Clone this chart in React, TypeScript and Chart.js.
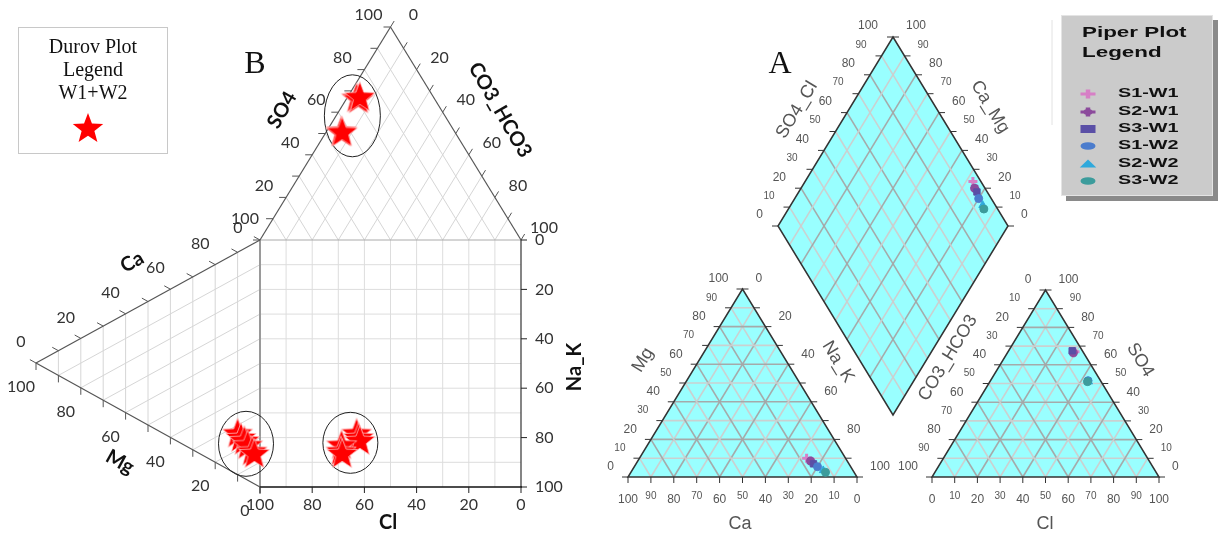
import React, { useEffect, useRef } from "react";
import { Chart, registerables } from "chart.js";

Chart.register(...registerables);

const W = 1219;
const H = 538;

// ---------------- data (% meq/l) ----------------
const SAMPLES = ["S1-W1", "S2-W1", "S3-W1", "S1-W2", "S2-W2", "S3-W2"];
const CA = [17, 16, 15.5, 14.5, 13, 12.5];
const MG = [10, 8.5, 7, 5.5, 3.5, 2.5];
const SO4 = [67, 66.5, 67.5, 51.5, 51, 51];
const CL = [29.5, 29, 28, 43, 43.5, 43];
const COLORS = ["#d77fc6", "#8c4b9c", "#5a4fa6", "#4b7ccd", "#2fa9dc", "#3c9c9c"];
const STYLES = ["cross", "star", "rect", "circle", "triangle", "circle"];

const DUROV_TICKS = [0, 20, 40, 60, 80, 100];
const PIPER_TICKS = [0, 10, 20, 30, 40, 50, 60, 70, 80, 90, 100];
const NAK_TICKS = [0, 20, 40, 60, 80, 100];
const GRID = [10, 20, 30, 40, 50, 60, 70, 80, 90];

// ---------------- layout geometry ----------------
type P = [number, number];
const DQ = { l: 260, r: 521, t: 240, b: 487 };
const DT = { cl: [260, 240] as P, co3: [521, 240] as P, so4: [390.5, 27] as P };
const DL = { ca: [260, 240] as P, mg: [36, 363] as P, na: [260, 487] as P };
const PC = { ca: [628, 477] as P, na: [857, 477] as P, mg: [742.5, 289] as P };
const PA = { co3: [932, 477] as P, cl: [1159, 477] as P, so4: [1045.5, 290] as P };
const PD = { t: [893, 37] as P, l: [778, 226] as P, r: [1008, 226] as P, b: [893, 415] as P };

const mix = (A: P, B: P, C: P, a: number, b: number, c: number): P => {
  const s = a + b + c;
  return [(A[0] * a + B[0] * b + C[0] * c) / s, (A[1] * a + B[1] * b + C[1] * c) / s];
};
const lerp = (A: P, B: P, t: number): P => [A[0] + (B[0] - A[0]) * t, A[1] + (B[1] - A[1]) * t];
const dia = (a: number, b: number): P => [
  PD.b[0] + a * (PD.r[0] - PD.b[0]) + b * (PD.l[0] - PD.b[0]),
  PD.b[1] + a * (PD.r[1] - PD.b[1]) + b * (PD.l[1] - PD.b[1]),
];

const NA = CA.map((c, i) => 100 - c - MG[i]);
const CO3 = SO4.map((s, i) => 100 - s - CL[i]);

const durovTop = SAMPLES.map((_, i) => mix(DT.cl, DT.co3, DT.so4, CL[i], CO3[i], SO4[i]));
const durovLeft = SAMPLES.map((_, i) => mix(DL.ca, DL.mg, DL.na, CA[i], MG[i], NA[i]));
const durovSq = SAMPLES.map((_, i) => [durovTop[i][0], durovLeft[i][1]] as P);
const piperCat = SAMPLES.map((_, i) => mix(PC.ca, PC.na, PC.mg, CA[i], NA[i], MG[i]));
const piperAn = SAMPLES.map((_, i) => mix(PA.co3, PA.cl, PA.so4, CO3[i], CL[i], SO4[i]));
const piperDia = SAMPLES.map((_, i) => dia((SO4[i] + CL[i]) / 100, (CA[i] + MG[i]) / 100));

// ---------------- drawing helpers ----------------
function line(g: CanvasRenderingContext2D, a: P, b: P, color: string, w: number) {
  g.beginPath();
  g.moveTo(a[0], a[1]);
  g.lineTo(b[0], b[1]);
  g.strokeStyle = color;
  g.lineWidth = w;
  g.stroke();
}

function text(g: CanvasRenderingContext2D, s: string, x: number, y: number, font: string, color = "#333", align: CanvasTextAlign = "center", rot = 0, sx = 1) {
  g.save();
  g.translate(x, y);
  if (rot) g.rotate((rot * Math.PI) / 180);
  if (sx !== 1) g.scale(sx, 1);
  g.font = font;
  g.fillStyle = color;
  g.textAlign = align;
  g.textBaseline = "middle";
  g.fillText(s, 0, 0);
  g.restore();
}

function starPath(g: CanvasRenderingContext2D, cx: number, cy: number, R: number) {
  const r = R * 0.42;
  g.beginPath();
  for (let k = 0; k < 10; k++) {
    const ang = -Math.PI / 2 + (k * Math.PI) / 5;
    const rr = k % 2 ? r : R;
    g.lineTo(cx + rr * Math.cos(ang), cy + rr * Math.sin(ang));
  }
  g.closePath();
}

function makeStar(R: number) {
  const c = document.createElement("canvas");
  const s = Math.ceil(R * 2 + 4);
  c.width = s;
  c.height = s;
  const g = c.getContext("2d")!;
  starPath(g, s / 2, s / 2 + R * 0.095, R);
  g.fillStyle = "#ff0000";
  g.fill();
  g.strokeStyle = "rgba(255,200,200,0.9)";
  g.lineWidth = 0.8;
  g.stroke();
  return c;
}

function triGrid(g: CanvasRenderingContext2D, A: P, B: P, C: P, fams: number[], color: (t: number) => string, w: number) {
  for (const t of GRID) {
    const u = 100 - t;
    for (const f of fams) {
      let p1: P, p2: P;
      if (f === 0) { p1 = mix(A, B, C, t, u, 0); p2 = mix(A, B, C, t, 0, u); }
      else if (f === 1) { p1 = mix(A, B, C, u, t, 0); p2 = mix(A, B, C, 0, t, u); }
      else { p1 = mix(A, B, C, u, 0, t); p2 = mix(A, B, C, 0, u, t); }
      line(g, p1, p2, color(t), w);
    }
  }
}

function unit(a: P, b: P, len: number): P {
  const dx = b[0] - a[0], dy = b[1] - a[1];
  const n = Math.hypot(dx, dy);
  return [(dx / n) * len, (dy / n) * len];
}

function ticks(g: CanvasRenderingContext2D, A: P, B: P, d: P, color: string) {
  for (const v of PIPER_TICKS) {
    const p = lerp(A, B, v / 100);
    line(g, p, [p[0] + d[0], p[1] + d[1]], color, 1);
  }
}

function bbox(pts: P[]) {
  const xs = pts.map((p) => p[0]), ys = pts.map((p) => p[1]);
  return [(Math.min(...xs) + Math.max(...xs)) / 2, (Math.min(...ys) + Math.max(...ys)) / 2];
}

function drawDurov(g: CanvasRenderingContext2D) {
  const NUM = '16px Lato';
  const TITLE = 'bold 20px Lato';
  const light = () => "#d6d6d6";
  for (const t of GRID) {
    const x = DQ.r - ((DQ.r - DQ.l) * t) / 100;
    const y = DQ.t + ((DQ.b - DQ.t) * t) / 100;
    line(g, [x, DQ.t], [x, DQ.b], "#dddddd", 1);
    line(g, [DQ.l, y], [DQ.r, y], "#dddddd", 1);
  }
  triGrid(g, DT.cl, DT.co3, DT.so4, [0, 1], light, 1);
  triGrid(g, DL.ca, DL.mg, DL.na, [1, 2], light, 1);
  line(g, [DQ.l, DQ.t], [DQ.r, DQ.t], "#aaaaaa", 1);
  line(g, [DQ.l, DQ.t], [DQ.l, DQ.b], "#9a9a9a", 2);
  line(g, [DQ.r, DQ.t], [DQ.r, DQ.b], "#333333", 1.2);
  line(g, [DQ.l, DQ.b], [DQ.r + 1, DQ.b], "#111111", 1.5);
  line(g, DT.cl, DT.so4, "#555", 1.2);
  line(g, DT.so4, DT.co3, "#555", 1.2);
  line(g, DL.mg, DL.ca, "#555", 1.2);
  line(g, DL.mg, DL.na, "#555", 1.2);
  ticks(g, DT.cl, DT.so4, [-7, 0], "#555");
  ticks(g, DT.so4, DT.co3, unit(DT.cl, DT.so4, 7), "#555");
  ticks(g, DL.mg, DL.ca, unit(DL.na, DL.mg, 7), "#555");
  ticks(g, DL.mg, DL.na, [0, 7], "#555");
  for (const v of DUROV_TICKS) {
    const x = DQ.r - ((DQ.r - DQ.l) * v) / 100;
    const y = DQ.t + ((DQ.b - DQ.t) * v) / 100;
    line(g, [x, DQ.b], [x, DQ.b + 6], "#222", 1);
    line(g, [DQ.r, y], [DQ.r + 6, y], "#222", 1);
  }
  for (const v of DUROV_TICKS) {
    const s = String(v);
    const a = lerp(DT.cl, DT.so4, v / 100);
    text(g, s, a[0] - 22, a[1] - 12, NUM);
    const b = lerp(DT.so4, DT.co3, v / 100);
    text(g, s, b[0] + 23, b[1] - 12, NUM);
    const c = lerp(DL.mg, DL.ca, v / 100);
    text(g, s, c[0] - 15, c[1] - 21, NUM);
    const d = lerp(DL.na, DL.mg, v / 100);
    text(g, s, d[0] - 15, d[1] + 24, NUM);
    text(g, s, 535, DQ.t + ((DQ.b - DQ.t) * v) / 100, NUM, "#333", "left");
    text(g, s, DQ.r - ((DQ.r - DQ.l) * v) / 100, 505, NUM);
  }
  text(g, "SO4", 282, 110, TITLE, "#111", "center", -60);
  text(g, "CO3_HCO3", 500, 110, TITLE, "#111", "center", 60);
  text(g, "Ca", 132, 262, TITLE, "#111", "center", -29);
  text(g, "Mg", 120, 462, TITLE, "#111", "center", 29);
  text(g, "Na_K", 575, 367, TITLE, "#111", "center", -90);
  text(g, "Cl", 388, 523, TITLE, "#111");
  text(g, "B", 255, 65, '32px "Liberation Serif"', "#111");
  g.strokeStyle = "#c8c8c8";
  g.lineWidth = 1;
  g.strokeRect(18.5, 27.5, 149, 126);
  const LF = '20px "Liberation Serif"';
  text(g, "Durov Plot", 93, 48, LF, "#111");
  text(g, "Legend", 93, 71, LF, "#111");
  text(g, "W1+W2", 93, 94, LF, "#111");
  starPath(g, 88, 129, 16);
  g.fillStyle = "#ff0000";
  g.fill();
  const groups = [durovTop, durovLeft, durovSq];
  const radii = [[28, 41], [27.5, 32.5], [27.5, 30.5]];
  const shift = [[2, 2], [0, 1], [0, 0]];
  groups.forEach((pts, k) => {
    const c = bbox(pts);
    g.beginPath();
    g.ellipse(c[0] + shift[k][0], c[1] + shift[k][1], radii[k][0], radii[k][1], 0, 0, Math.PI * 2);
    g.strokeStyle = "#222";
    g.lineWidth = 1;
    g.stroke();
  });
}

function drawPiper(g: CanvasRenderingContext2D) {
  const CYAN = "#99ffff";
  const GR = (t: number) => (t % 20 === 0 ? "rgba(165,165,165,0.95)" : "rgba(205,205,205,0.95)");
  const EDGE = "#333";
  g.fillStyle = CYAN;
  g.beginPath(); g.moveTo(...PC.ca); g.lineTo(...PC.na); g.lineTo(...PC.mg); g.closePath(); g.fill();
  g.beginPath(); g.moveTo(...PA.co3); g.lineTo(...PA.cl); g.lineTo(...PA.so4); g.closePath(); g.fill();
  g.beginPath(); g.moveTo(...PD.t); g.lineTo(...PD.r); g.lineTo(...PD.b); g.lineTo(...PD.l); g.closePath(); g.fill();
  triGrid(g, PC.ca, PC.na, PC.mg, [0, 1, 2], GR, 1.6);
  triGrid(g, PA.co3, PA.cl, PA.so4, [0, 1, 2], GR, 1.6);
  for (const t of GRID) {
    line(g, dia(t / 100, 0), dia(t / 100, 1), GR(t), 1.6);
    line(g, dia(0, t / 100), dia(1, t / 100), GR(t), 1.6);
  }
  g.strokeStyle = EDGE; g.lineWidth = 1.5;
  g.beginPath(); g.moveTo(...PC.ca); g.lineTo(...PC.na); g.lineTo(...PC.mg); g.closePath(); g.stroke();
  g.beginPath(); g.moveTo(...PA.co3); g.lineTo(...PA.cl); g.lineTo(...PA.so4); g.closePath(); g.stroke();
  g.beginPath(); g.moveTo(...PD.t); g.lineTo(...PD.r); g.lineTo(...PD.b); g.lineTo(...PD.l); g.closePath(); g.stroke();
  ticks(g, PC.ca, PC.na, [0, 6], EDGE);
  ticks(g, PC.ca, PC.mg, [-6, 0], EDGE);
  ticks(g, PC.mg, PC.na, [6, 0], EDGE);
  ticks(g, PA.co3, PA.cl, [0, 6], EDGE);
  ticks(g, PA.co3, PA.so4, [-6, 0], EDGE);
  ticks(g, PA.so4, PA.cl, [6, 0], EDGE);
  ticks(g, PD.l, PD.t, [-6, 0], EDGE);
  ticks(g, PD.r, PD.t, [6, 0], EDGE);
  const C = "#555";
  const f = (v: number) => (v % 20 === 0 ? '12px "Liberation Sans"' : '10px "Liberation Sans"');
  for (const v of PIPER_TICKS) {
    const s = String(v);
    const odd = v % 20 !== 0;
    let p = lerp(PC.ca, PC.mg, v / 100);
    text(g, s, p[0] - 14, p[1] - 10, f(v), C, "right");
    p = lerp(PC.na, PC.ca, v / 100);
    text(g, s, p[0], odd ? 496 : 500, f(v), C);
    p = lerp(PA.so4, PA.co3, v / 100);
    text(g, s, p[0] - 14, p[1] - 10, f(v), C, "right");
    p = lerp(PA.cl, PA.so4, v / 100);
    text(g, s, p[0] + 13, p[1] - 10, f(v), C, "left");
    p = lerp(PA.co3, PA.cl, v / 100);
    text(g, s, p[0], odd ? 496 : 500, f(v), C);
    p = lerp(PD.l, PD.t, v / 100);
    text(g, s, p[0] - 15, p[1] - 11, f(v), C, "right");
    p = lerp(PD.r, PD.t, v / 100);
    text(g, s, p[0] + 13, p[1] - 11, f(v), C, "left");
  }
  for (const v of NAK_TICKS) {
    const p = lerp(PC.mg, PC.na, v / 100);
    text(g, String(v), p[0] + 13, p[1] - 10, '12px "Liberation Sans"', C, "left");
  }
  const TF = '18px "Liberation Sans"';
  text(g, "SO4_Cl", 797, 110, TF, C, "center", -58.7);
  text(g, "Ca_Mg", 990, 107, TF, C, "center", 58.7);
  text(g, "Mg", 643, 360, TF, C, "center", -58.6);
  text(g, "Na_K", 838, 362, TF, C, "center", 58.6);
  text(g, "CO3_HCO3", 948, 358, TF, C, "center", -58.6);
  text(g, "SO4", 1140, 360, TF, C, "center", 58.6);
  text(g, "Ca", 740, 524, TF, C);
  text(g, "Cl", 1045, 524, TF, C);
  text(g, "A", 780, 65, '32px "Liberation Serif"', "#111");
  line(g, [1052, 20], [1052, 125], "#e2e2e2", 1);
  g.fillStyle = "#8a8a8a";
  g.fillRect(1066, 20, 152, 181);
  g.fillStyle = "#cbcbcb";
  g.fillRect(1061, 15, 152, 181);
  g.strokeStyle = "#e4e4e4";
  g.lineWidth = 1;
  g.strokeRect(1061.5, 15.5, 151, 180);
  text(g, "Piper Plot", 1082, 33, 'bold 14px "Liberation Sans"', "#111", "left", 0, 1.6);
  text(g, "Legend", 1082, 53, 'bold 14px "Liberation Sans"', "#111", "left", 0, 1.6);
  const ys = [94, 112, 129, 146, 164, 181];
  SAMPLES.forEach((s, i) => {
    const y = ys[i];
    drawLegendMarker(g, STYLES[i], COLORS[i], 1088, y);
    text(g, s, 1118, y, 'bold 12px "Liberation Sans"', "#111", "left", 0, 1.65);
  });
}

function drawLegendMarker(g: CanvasRenderingContext2D, style: string, color: string, x: number, y: number) {
  g.save();
  g.translate(x, y);
  g.scale(1.5, 1);
  g.fillStyle = color;
  g.strokeStyle = color;
  if (style === "cross" || style === "star") {
    g.lineWidth = 3;
    g.beginPath();
    g.moveTo(-5, 0); g.lineTo(5, 0);
    g.moveTo(0, -4.5); g.lineTo(0, 4.5);
    g.stroke();
    if (style === "star") { g.beginPath(); g.arc(0, 0, 3, 0, Math.PI * 2); g.fill(); }
  } else if (style === "rect") {
    g.fillRect(-5, -4, 10, 8);
  } else if (style === "circle") {
    g.beginPath(); g.ellipse(0, 0, 5, 3.8, 0, 0, Math.PI * 2); g.fill();
  } else if (style === "triangle") {
    g.beginPath(); g.moveTo(0, -4.5); g.lineTo(5.5, 3.5); g.lineTo(-5.5, 3.5); g.closePath(); g.fill();
  }
  g.restore();
}

const bgPlugin = {
  id: "piperDurovBackground",
  beforeDatasetsDraw(chart: any) {
    const g = chart.ctx as CanvasRenderingContext2D;
    const xs = chart.scales.x, ysc = chart.scales.y;
    const x0 = xs.getPixelForValue(0), x1 = xs.getPixelForValue(W);
    const y0 = ysc.getPixelForValue(0), y1 = ysc.getPixelForValue(H);
    g.save();
    g.fillStyle = "#ffffff";
    g.fillRect(0, 0, W, H);
    g.translate(x0, y0);
    g.scale((x1 - x0) / W, (y1 - y0) / H);
    drawPiper(g);
    drawDurov(g);
    g.restore();
  },
};

export default function App() {
  const ref = useRef<HTMLCanvasElement>(null);
  useEffect(() => {
    document.body.style.margin = "0";
    const star = makeStar(16);
    const durovPts = [...durovTop, ...durovLeft, ...durovSq].map((p) => ({ x: p[0], y: p[1] }));
    const datasets: any[] = [
      {
        label: "Durov W1+W2",
        data: durovPts,
        pointStyle: star,
        pointRadius: 16,
        backgroundColor: "#ff0000",
        borderColor: "#ff0000",
        order: 0,
        clip: false,
      },
      ...SAMPLES.map((s, i) => ({
        label: s,
        data: [piperCat[i], piperAn[i], piperDia[i]].map((p) => ({ x: p[0], y: p[1] })),
        pointStyle: STYLES[i],
        pointRadius: STYLES[i] === "circle" ? 4 : 4.5,
        backgroundColor: COLORS[i],
        borderColor: COLORS[i],
        borderWidth: STYLES[i] === "cross" || STYLES[i] === "star" ? 3 : 1,
        order: SAMPLES.length - i,
        clip: false,
      })),
    ];
    const chart = new Chart(ref.current!, {
      type: "scatter",
      data: { datasets },
      options: {
        responsive: false,
        animation: false,
        devicePixelRatio: 1,
        events: [],
        layout: { padding: 0, autoPadding: false },
        plugins: { legend: { display: false }, tooltip: { enabled: false } },
        scales: {
          x: { type: "linear", min: 0, max: W, display: false },
          y: { type: "linear", min: 0, max: H, reverse: true, display: false },
        },
      },
      plugins: [bgPlugin],
    } as any);
    return () => chart.destroy();
  }, []);
  return (
    <div style={{ width: W, height: H, position: "absolute", left: 0, top: 0 }}>
      <canvas ref={ref} width={W} height={H} style={{ display: "block" }} />
    </div>
  );
}
